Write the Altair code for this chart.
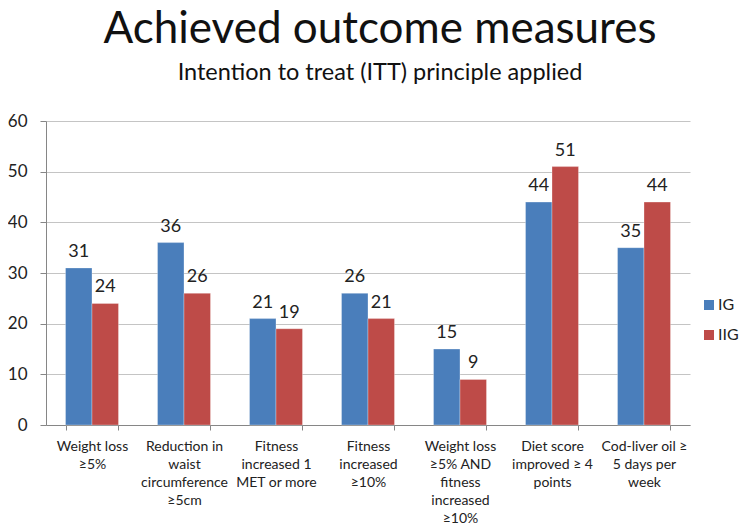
import altair as alt
import pandas as pd

categories = [
    "Weight loss|≥5%",
    "Reduction in|waist|circumference|≥5cm",
    "Fitness|increased 1|MET or more",
    "Fitness|increased|≥10%",
    "Weight loss|≥5% AND|fitness|increased|≥10%",
    "Diet score|improved ≥ 4|points",
    "Cod-liver oil ≥|5 days per|week",
]
groups = ["IG", "IIG"]
ig_values = [31, 36, 21, 26, 15, 44, 35]
iig_values = [24, 26, 19, 21, 9, 51, 44]
colors = ["#4A7EBB", "#BE4B48"]
y_ticks = [0, 10, 20, 30, 40, 50, 60]

rows = []
for c, a, b in zip(categories, ig_values, iig_values):
    rows.append({"category": c, "group": "IG", "value": a})
    rows.append({"category": c, "group": "IIG", "value": b})
df = pd.DataFrame(rows)

FONT = "Lato"

x_enc = alt.X(
    "category:N",
    sort=categories,
    scale=alt.Scale(paddingInner=0.424, paddingOuter=0.212),
    axis=alt.Axis(
        title=None,
        labelAngle=0,
        labelExpr="split(datum.label, '|')",
        labelFontSize=14,
        labelLineHeight=18,
        labelColor="#222222",
        labelFont=FONT,
        labelPadding=9,
        tickBand="extent",
        tickSize=5,
        tickColor="#868686",
        domainColor="#868686",
        grid=False,
    ),
)
xoff = alt.XOffset("group:N", sort=groups)
y_enc = alt.Y(
    "value:Q",
    scale=alt.Scale(domain=[0, 60]),
    axis=alt.Axis(
        title=None,
        values=y_ticks,
        labelFontSize=17,
        labelColor="#222222",
        labelFont=FONT,
        labelPadding=13,
        tickSize=6,
        tickColor="#868686",
        domainColor="#868686",
        gridColor="#c4c4c4",
    ),
)

bars = alt.Chart(df).mark_bar(stroke="white", strokeWidth=0.6, strokeOpacity=0.5).encode(
    x=x_enc,
    xOffset=xoff,
    y=y_enc,
    color=alt.Color(
        "group:N",
        sort=groups,
        scale=alt.Scale(domain=groups, range=colors),
        legend=alt.Legend(
            title=None,
            orient="none",
            legendX=655,
            legendY=176,
            symbolType="square",
            symbolSize=100,
            symbolStrokeWidth=0,
            labelFontSize=16,
            labelFont=FONT,
            labelColor="#222222",
            labelOffset=1,
            rowPadding=14,
            padding=0,
        ),
    ),
)

labels = alt.Chart(df).mark_text(
    dy=-11, baseline="alphabetic", fontSize=18, font=FONT, color="#222222"
).encode(
    x=alt.X("category:N", sort=categories),
    xOffset=xoff,
    y=alt.Y("value:Q"),
    text=alt.Text("value:Q"),
)

chart = (
    alt.layer(bars, labels)
    .properties(
        width=644,
        height=304,
        autosize="none",
        padding={"left": 38, "top": 113, "right": 50, "bottom": 100},
        title=alt.TitleParams(
            text="Achieved outcome measures",
            subtitle="Intention to treat (ITT) principle applied",
            font=FONT,
            subtitleFont=FONT,
            fontSize=44,
            fontWeight="normal",
            subtitleFontSize=23.5,
            color="#111111",
            subtitleColor="#111111",
            anchor="middle",
            dx=12,
            offset=28,
            subtitlePadding=9,
        ),
    )
    .configure_view(stroke=None)
)

chart.save("out.html", embed_options={"renderer": "svg", "actions": False})
